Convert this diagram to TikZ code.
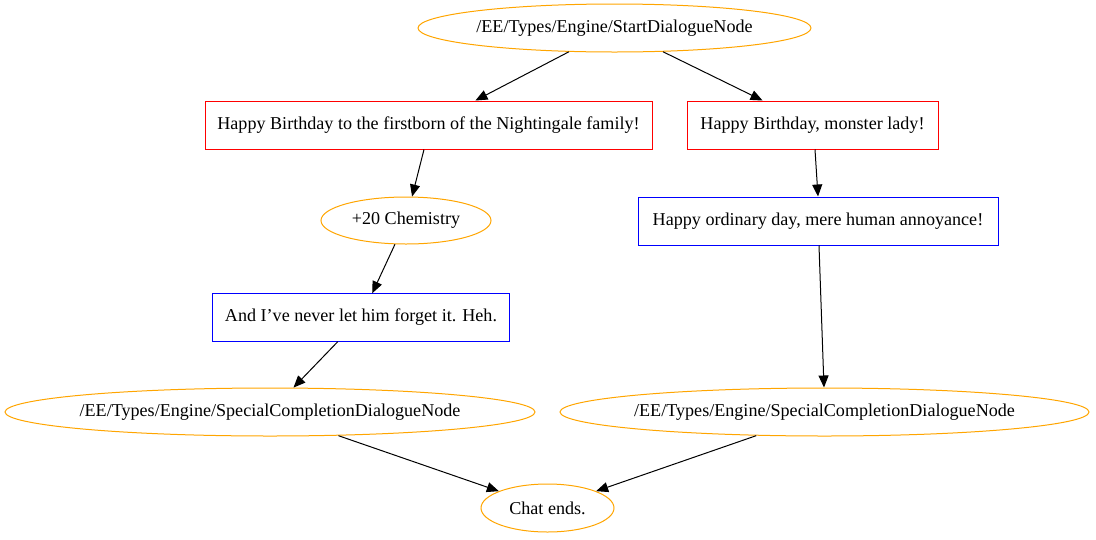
\documentclass[tikz,border=0pt]{standalone}
\usepackage{fontspec}
\setmainfont{Liberation Serif}
\usetikzlibrary{arrows.meta,shapes.geometric}
\definecolor{gvorange}{RGB}{255,165,0}
\definecolor{gvblue}{RGB}{0,0,255}
\definecolor{gvred}{RGB}{255,0,0}
\tikzset{
  every node/.style={font=\fontsize{18.1}{20}\selectfont, inner sep=0pt},
  oval/.style={ellipse, draw=gvorange, line width=1pt, inner xsep=-60pt},
  redbox/.style={rectangle, draw=gvred, line width=1pt},
  bluebox/.style={rectangle, draw=gvblue, line width=1pt},
  plainbox/.style={rectangle},
  blueframe/.style={draw=gvblue, line width=1pt},
  edge/.style={draw=black, line width=1pt, -{Triangle[length=12pt,width=10pt]}}
}
\begin{document}
\begin{tikzpicture}[x=1pt,y=-1pt]
\useasboundingbox (0,0) rectangle (1096,539);
\node[oval, minimum width=393, minimum height=48] (start) at (614.5,28) {/EE/Types/Engine/StartDialogueNode};
\node[redbox, minimum width=447, minimum height=48] (a) at (428.5,125) {Happy Birthday to the firstborn of the Nightingale family!};
\node[redbox, minimum width=251, minimum height=48] (b) at (812.5,125) {Happy Birthday, monster lady!};
\node[oval, inner xsep=-20pt, minimum width=170, minimum height=47] (chem) at (406,220.5) {+20 Chemistry};
\node[bluebox, minimum width=360, minimum height=48] (ord) at (818,221) {Happy ordinary day, mere human annoyance!};
\node[plainbox, minimum width=296, minimum height=48] (heh) at (361,317.5) {And I’ve never let him forget it. Heh.};
\draw[blueframe] (heh.north west) rectangle (heh.south east);
\node[oval, minimum width=530, minimum height=48] (spl) at (270,412) {/EE/Types/Engine/SpecialCompletionDialogueNode};
\node[oval, minimum width=529, minimum height=48] (spr) at (824.5,412) {/EE/Types/Engine/SpecialCompletionDialogueNode};
\node[oval, inner xsep=-10pt, minimum width=133, minimum height=48] (chat) at (547.5,508) {Chat ends.};
\draw[edge] (start) -- (a);
\draw[edge] (start) -- (b);
\draw[edge] (a.south -| 424,0) -- (chem);
\draw[edge] (b.south -| 815,0) -- (ord.north -| 818,0);
\draw[edge] (chem) -- (heh);
\draw[edge] (heh) -- (spl);
\draw[edge] (ord.south -| 819,0) -- (spr.north -| 824,0);
\draw[edge] (spl) -- (chat);
\draw[edge] (spr) -- (chat);
\end{tikzpicture}
\end{document}
